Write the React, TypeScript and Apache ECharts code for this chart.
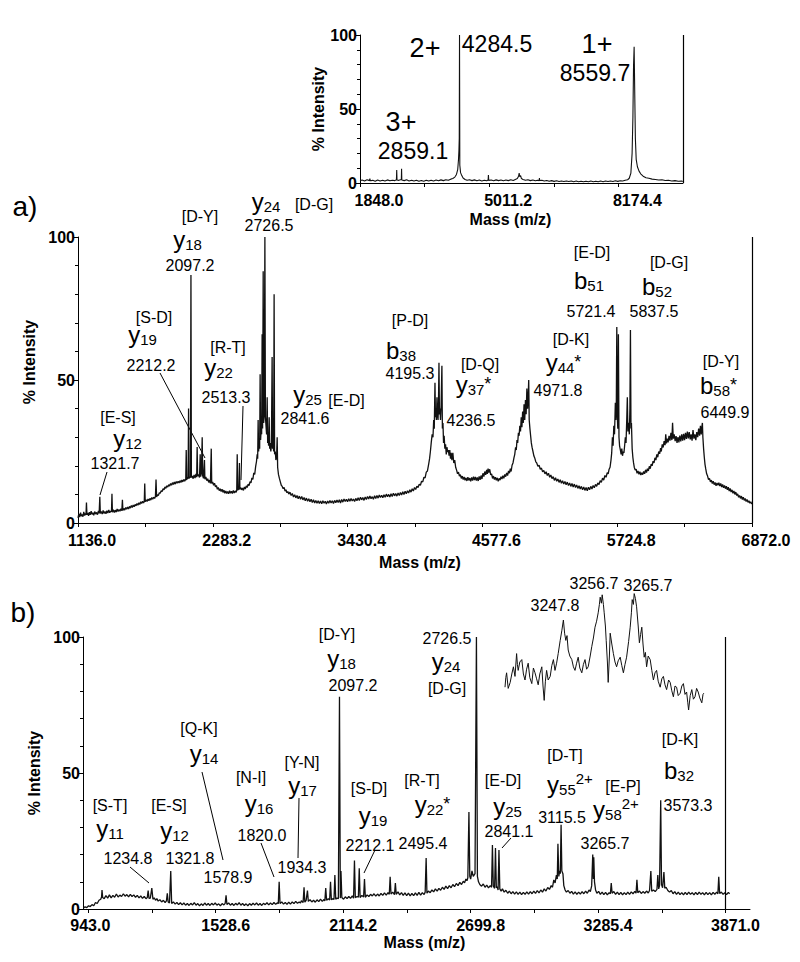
import React, { useEffect, useRef } from "react";
import * as echarts from "echarts";

// ---------- data ----------
const INSET_TICKS = [1848.0, 5011.2, 8174.4];
const A_TICKS = [1136.0, 2283.2, 3430.4, 4577.6, 5724.8, 6872.0];
const B_TICKS = [943.0, 1528.6, 2114.2, 2699.8, 3285.4, 3871.0];

const INSET_RANGE = [1848.0, 9756.0];
const A_RANGE = [1136.0, 6872.0];
const B_RANGE = [918.6, 3983.6];
const ZOOM_RANGE = [3233.3, 3283.3];

// top inset: full MS spectrum (m/z, % intensity)
const INSET_SPECTRUM = [
  [1848,1.5],[1900,2.0],[1960,1.4],[2020,2.2],[2080,1.6],[2090,3.0],[2100,1.5],[2160,1.8],[2220,1.2],[2280,2.0],
  [2340,1.4],[2400,1.9],[2460,1.3],[2520,2.1],[2580,1.5],[2640,1.9],[2700,1.6],[2740,2.2],[2747,8.8],[2754,2.0],
  [2800,1.8],[2860,2.4],[2866,9.6],[2872,2.0],[2930,1.6],[2990,2.2],[3050,1.4],[3110,1.9],[3170,1.3],[3230,1.8],
  [3290,1.2],[3350,1.7],[3410,1.2],[3470,1.8],[3530,1.3],[3590,1.9],[3650,1.4],[3710,2.0],[3770,1.5],[3830,2.1],
  [3890,1.6],[3950,2.2],[4010,1.8],[4070,2.6],[4120,3.0],[4170,4.0],[4210,5.8],[4240,9.0],[4260,16.0],[4270,22.0],
  [4278,30.0],[4284.5,100],[4292,12.0],[4310,7.0],[4340,5.0],[4372,3.4],[4420,2.4],[4470,1.8],[4530,2.2],[4590,1.6],
  [4650,2.1],[4710,1.5],[4770,2.0],[4830,1.4],[4890,1.9],[4950,1.5],[4985,2.0],[4992,5.4],[4999,1.8],[5060,2.0],
  [5120,1.5],[5180,2.1],[5240,1.6],[5300,2.0],[5360,1.5],[5420,2.0],[5480,1.6],[5540,2.2],[5600,1.7],[5650,2.4],
  [5700,3.0],[5730,4.5],[5745,6.7],[5760,4.2],[5780,5.0],[5800,3.0],[5840,2.4],[5900,1.8],[5960,2.2],[6020,1.6],
  [6080,2.0],[6140,1.5],[6200,1.9],[6235,1.6],[6241,3.4],[6247,1.7],[6300,1.9],[6360,1.3],[6420,1.7],[6480,1.2],
  [6540,1.6],[6600,1.1],[6660,1.5],[6720,1.0],[6780,1.4],[6840,1.0],[6900,1.4],[6960,1.0],[7020,1.3],[7080,0.9],
  [7140,1.3],[7200,0.9],[7260,1.2],[7320,0.8],[7380,1.2],[7440,0.9],[7500,1.3],[7560,0.9],[7620,1.2],[7680,0.8],
  [7740,1.3],[7800,0.9],[7860,1.3],[7920,1.0],[7980,1.4],[8040,1.0],[8100,1.5],[8160,1.1],[8220,1.5],[8280,1.3],
  [8340,1.8],[8400,2.2],[8440,3.2],[8480,6.7],[8510,20.0],[8530,45.0],[8545,79.0],[8559.7,92.0],[8575,60.0],[8590,30.0],
  [8610,16.0],[8640,11.0],[8680,8.0],[8720,6.2],[8780,4.6],[8850,3.6],[8920,3.2],[9000,2.6],[9080,2.4],[9160,2.0],
  [9240,2.2],[9320,1.7],[9400,1.9],[9480,1.4],[9560,1.6],[9640,1.2],[9720,1.4],[9750,1.0],
];

// panel a: MS/MS spectrum
const SPECTRUM_A = [
  [1136,1.8],[1143,3.2],[1150,2.1],[1158,3.6],[1164,2.4],[1171,3.0],[1178,2.2],[1185,3.9],[1192,2.6],[1199,3.3],
  [1204,2.8],[1208,7.2],[1212,2.9],[1219,3.5],[1226,2.5],[1233,3.8],[1240,2.9],[1248,4.1],[1255,3.0],[1262,3.6],
  [1270,2.7],[1278,4.0],[1286,3.1],[1294,3.7],[1302,2.9],[1310,4.2],[1316,3.4],[1321.7,9.2],[1326,3.3],[1334,4.0],
  [1342,3.1],[1350,4.4],[1358,3.3],[1366,4.0],[1374,3.2],[1382,4.3],[1390,3.5],[1398,4.6],[1406,3.6],[1414,4.2],
  [1421,3.9],[1425,10.2],[1429,3.8],[1437,4.6],[1445,3.7],[1453,4.5],[1461,3.8],[1469,4.9],[1477,4.0],[1485,4.7],
  [1493,4.1],[1501,5.0],[1509,4.3],[1514,8.1],[1518,4.4],[1526,5.1],[1534,4.5],[1542,5.4],[1550,4.8],[1558,5.6],
  [1566,4.9],[1574,5.8],[1582,5.2],[1590,6.1],[1598,5.4],[1606,6.3],[1614,5.7],[1622,6.5],[1630,6.0],[1638,6.8],
  [1646,6.2],[1654,7.1],[1662,6.5],[1670,7.4],[1678,6.8],[1686,7.6],[1694,7.0],[1700,7.5],[1704,13.8],[1708,7.4],
  [1716,8.1],[1724,7.5],[1732,8.4],[1740,7.8],[1748,8.6],[1756,8.0],[1764,8.9],[1772,8.3],[1780,9.0],[1788,8.6],
  [1795,9.3],[1800,15.2],[1805,9.1],[1812,9.9],[1820,9.6],[1828,10.6],[1836,10.4],[1844,11.3],[1852,11.0],[1860,12.0],
  [1868,11.6],[1876,12.6],[1884,12.1],[1892,13.0],[1900,12.6],[1908,13.4],[1916,12.9],[1924,13.8],[1932,13.2],[1940,14.1],
  [1948,13.5],[1956,14.3],[1964,13.6],[1972,14.5],[1980,13.9],[1988,14.6],[1996,14.0],
  [2004,14.8],[2012,14.2],[2020,15.0],[2028,14.4],[2036,15.2],[2044,14.6],[2050,15.3],[2053,14.9],[2057,25.5],[2061,15.1],
  [2068,16.0],[2073,15.5],[2077,40.0],[2081,15.6],[2088,16.2],[2093,15.8],[2097.2,86.7],[2101,15.9],[2108,16.4],[2116,15.5],
  [2124,16.8],[2132,15.7],[2140,17.2],[2146,16.0],[2150,26.6],[2154,16.4],[2162,17.0],[2170,15.9],[2176,24.0],[2180,16.2],
  [2186,17.3],[2193,30.0],[2197,16.5],[2204,15.6],[2212.2,22.0],[2216,15.3],[2224,16.1],[2232,14.8],[2240,15.5],[2248,14.2],
  [2256,15.0],[2263,13.9],[2270,26.0],[2274,13.8],[2282,14.4],[2290,13.2],[2298,13.9],[2306,12.6],[2314,13.1],[2322,11.8],
  [2330,12.4],[2338,11.3],[2346,12.0],[2354,11.0],[2362,11.8],[2370,10.7],[2378,11.5],[2386,10.4],[2394,11.2],[2402,10.3],
  [2410,11.0],[2418,10.2],[2426,11.3],[2434,10.4],[2442,11.1],[2450,10.3],[2458,11.4],[2466,10.5],[2474,11.2],[2482,10.7],
  [2487,11.5],[2491,24.0],[2495,11.4],[2500,12.0],[2505,11.6],[2510,21.0],[2514,11.8],[2520,12.4],[2528,11.6],[2536,12.2],
  [2544,11.4],[2552,12.6],[2560,11.9],[2568,13.0],[2576,12.4],[2584,13.6],[2592,13.1],[2600,14.5],[2608,14.0],[2616,15.8],
  [2624,15.2],[2632,17.5],[2640,17.0],[2648,19.8],[2655,21.5],[2661,24.0],[2665,22.5],[2669,36.0],[2673,25.0],[2678,28.0],
  [2682,26.0],[2686,52.0],[2690,29.0],[2695,33.0],[2699,31.0],[2703,66.0],[2707,33.0],[2712,88.0],[2716,35.0],[2721,38.0],
  [2726.5,100],[2731,37.0],[2736,34.0],[2741,31.0],[2746,44.0],[2750,28.0],[2755,30.0],[2758,27.0],[2763,37.0],[2767,26.0],
  [2772,28.0],[2777,25.0],[2782,27.0],[2788,58.0],[2792,26.0],[2797,28.0],[2801,25.0],[2805,80.0],[2809,24.0],[2815,25.0],
  [2820,22.0],[2826,23.0],[2831,30.0],[2835,19.5],[2842,17.0],
  [2850,15.6],[2858,14.4],[2866,13.2],[2874,12.8],[2882,12.0],[2890,12.4],[2898,11.2],[2906,11.6],[2914,10.6],[2922,11.0],
  [2930,10.1],[2940,10.8],[2950,9.6],[2960,10.3],[2970,9.1],[2980,9.9],[2990,8.8],[3000,9.6],[3010,8.5],[3020,9.4],
  [3030,8.3],[3040,9.3],[3050,8.1],[3060,8.9],[3070,7.8],[3080,8.7],[3090,7.6],[3100,8.5],[3110,7.4],[3120,8.3],
  [3130,7.2],[3140,8.1],[3150,7.0],[3160,7.9],[3170,6.9],[3180,7.8],[3190,6.8],[3200,7.7],[3210,6.7],[3220,7.8],
  [3230,6.9],[3240,7.6],[3250,6.6],[3260,7.7],[3270,6.9],[3280,7.9],[3290,7.0],[3300,7.8],[3310,6.8],[3320,7.9],
  [3330,7.1],[3340,8.0],[3350,7.2],[3360,8.1],[3370,7.0],[3380,8.2],[3390,7.3],[3400,8.4],[3410,7.5],[3420,8.3],
  [3430,7.4],[3440,8.5],[3450,7.6],[3460,8.6],[3470,7.7],[3480,8.4],[3490,7.5],[3500,8.6],[3510,7.8],[3520,8.8],
  [3530,7.9],[3540,9.0],[3550,8.1],[3560,8.9],[3570,7.9],[3580,9.1],[3590,8.2],[3600,9.3],[3610,8.4],[3620,9.4],
  [3630,8.5],[3640,9.2],[3650,8.3],[3660,9.5],[3670,8.6],[3680,9.6],[3690,8.7],[3700,9.8],[3710,8.9],[3720,9.7],
  [3730,8.8],[3740,9.9],[3750,9.0],[3760,10.1],[3770,9.2],[3780,10.0],[3790,9.1],[3800,10.2],[3810,9.3],[3820,10.4],
  [3830,9.5],[3840,10.3],[3850,9.4],[3860,10.5],[3870,9.6],[3880,10.7],[3890,9.8],[3900,10.9],[3910,10.0],[3920,11.1],
  [3930,10.2],[3940,11.3],[3950,10.5],[3960,11.6],[3970,10.8],[3980,12.0],[3990,11.2],[4000,12.4],[4010,11.7],[4020,12.9],
  [4030,12.4],[4040,13.6],[4050,13.2],[4060,14.6],[4070,14.4],[4080,16.0],[4090,15.8],[4100,17.8],[4110,18.2],[4120,20.5],
  [4128,22.5],[4135,25.0],[4142,28.0],[4150,31.0],
  [4157,30.0],[4163,36.0],[4168,33.0],[4174,49.0],[4178,37.0],[4182,40.0],[4186,36.0],[4191,44.0],[4195.3,38.0],[4200,36.0],
  [4204,42.0],[4208,56.0],[4212,38.0],[4217,40.0],[4221,36.0],[4226,41.0],[4233,55.0],[4237,33.0],[4242,35.0],[4247,28.0],
  [4252,30.5],[4258,26.0],[4264,27.5],[4270,24.0],[4276,26.5],[4282,24.8],[4288,25.5],[4294,23.5],[4300,25.5],[4306,22.5],
  [4312,24.5],[4318,22.0],[4326,24.5],[4334,21.0],[4342,22.0],[4350,19.5],
  [4358,18.5],[4366,17.2],[4374,17.8],[4382,16.4],[4390,16.9],[4398,15.6],[4406,16.4],[4414,15.2],[4422,16.1],[4430,14.9],
  [4438,15.8],[4446,14.7],[4454,16.0],[4462,14.9],[4470,15.7],[4478,14.6],[4486,15.9],[4494,14.8],[4502,16.2],[4510,15.0],
  [4518,16.1],[4526,14.8],[4534,15.9],[4542,14.7],[4550,16.3],[4558,15.1],[4566,16.6],[4574,15.4],[4582,17.4],[4590,16.2],
  [4598,18.0],[4606,16.8],[4614,18.6],[4620,17.2],[4626,19.0],[4632,17.6],[4640,18.8],[4648,16.8],[4656,17.2],[4664,15.6],
  [4672,16.4],[4680,15.2],[4688,16.0],[4696,14.9],[4704,15.8],[4712,14.6],[4720,15.6],[4728,15.0],[4736,16.2],[4744,15.4],
  [4752,16.5],[4760,15.6],[4768,17.0],[4776,16.2],[4784,17.5],[4792,16.6],[4800,18.2],[4808,17.4],[4815,19.0],[4822,18.0],
  [4830,20.2],[4838,21.0],[4846,22.8],[4853,24.0],[4860,26.5],[4866,25.5],[4872,29.0],[4878,28.0],[4884,31.5],[4890,30.5],
  [4896,34.0],[4902,32.0],[4908,37.0],[4914,33.5],[4920,39.0],[4926,35.0],[4932,41.5],[4938,36.0],[4944,43.0],[4950,38.0],
  [4956,47.0],[4962,40.0],[4967,44.0],[4971.8,50.0],[4976,36.0],[4982,33.0],[4988,30.5],[4994,28.0],[5000,26.5],[5008,25.0],
  [5016,23.4],[5024,22.6],[5032,21.4],[5040,21.0],[5050,19.8],[5060,20.2],[5070,18.8],[5080,19.2],[5090,17.9],[5100,18.4],
  [5110,17.2],[5120,17.9],[5130,16.6],[5140,17.4],[5150,16.0],[5160,16.8],[5170,15.5],[5180,16.2],[5190,14.9],[5200,15.8],
  [5210,14.6],[5220,15.4],[5230,14.2],[5240,15.1],[5250,13.9],[5260,14.8],[5270,13.6],[5280,14.5],[5290,13.4],[5300,14.3],
  [5310,13.1],[5320,14.0],[5330,12.8],[5340,13.8],[5350,12.6],[5360,13.6],[5370,12.4],[5380,13.3],[5390,12.1],[5400,13.0],
  [5410,11.9],[5420,12.8],[5430,11.6],[5440,12.6],[5450,11.4],[5460,12.4],[5470,11.3],[5480,12.5],[5490,11.6],[5500,12.8],
  [5510,11.9],[5520,13.1],[5530,12.3],[5540,13.5],[5550,12.8],[5560,14.0],[5570,13.4],[5580,14.8],[5590,14.2],[5600,15.7],
  [5610,15.0],[5620,16.6],[5630,16.0],[5640,17.6],[5648,17.2],[5656,18.8],[5664,19.5],[5672,22.0],[5678,24.5],[5684,30.0],
  [5690,27.0],[5696,34.0],[5702,31.0],[5709,42.0],[5714,36.0],[5717,40.0],[5721.4,68.5],[5725,38.0],[5730,33.0],[5735,66.0],
  [5740,30.0],[5745,27.0],[5752,25.5],[5758,24.0],[5764,26.0],[5770,23.5],[5776,25.0],[5782,24.5],[5788,27.0],[5794,30.0],
  [5800,28.0],[5806,36.0],[5811,44.0],[5816,32.0],[5822,35.0],[5828,31.0],[5833,40.0],[5837.5,67.5],[5842,33.0],[5846,35.0],
  [5852,26.0],[5858,23.0],[5864,21.0],[5870,19.5],[5878,18.5],[5886,18.8],[5894,17.4],[5902,18.2],[5910,17.0],[5918,17.9],
  [5926,16.8],[5934,17.6],[5942,16.9],[5950,18.0],[5958,17.2],[5966,18.6],[5974,17.6],[5982,19.0],[5990,18.2],[5998,19.8],
  [6006,19.0],[6014,20.6],[6022,20.0],[6030,21.6],[6038,21.0],[6046,22.8],[6054,22.0],[6062,24.0],[6070,23.0],[6078,25.0],
  [6086,24.2],[6094,26.2],[6100,25.0],[6108,27.5],[6116,26.4],[6124,28.6],[6132,27.2],[6138,31.0],[6144,27.8],[6150,29.5],
  [6158,28.2],[6166,30.5],[6174,28.8],[6182,31.5],[6190,29.0],[6196,35.0],[6202,29.5],[6210,31.0],[6218,28.6],[6226,30.4],
  [6234,28.0],[6242,30.0],[6250,28.2],[6258,30.6],[6266,28.5],[6274,31.0],[6282,28.8],[6290,31.2],[6298,29.0],[6306,31.5],
  [6314,29.4],[6322,32.0],[6330,29.6],[6338,31.8],[6346,29.2],[6354,31.0],[6362,28.8],[6370,32.5],[6378,29.5],[6386,31.0],
  [6394,29.0],[6402,31.8],[6410,30.0],[6418,33.0],[6426,30.5],[6433,34.0],[6440,31.0],[6445,33.5],[6449.9,35.0],[6454,30.0],
  [6460,26.0],[6466,23.0],[6472,20.5],[6478,19.0],[6486,17.2],[6494,16.4],[6502,15.2],[6510,15.6],[6518,14.4],[6526,15.0],
  [6534,13.8],[6542,14.6],[6550,13.4],[6558,14.2],[6566,13.0],[6574,14.0],[6582,13.2],[6590,14.1],[6598,12.9],[6606,13.8],
  [6614,12.6],[6622,13.5],[6630,12.3],[6638,13.1],[6646,12.0],[6654,12.9],[6662,11.6],[6670,12.5],[6678,11.2],[6686,12.1],
  [6694,10.8],[6702,11.6],[6710,10.4],[6718,11.2],[6726,10.0],[6734,10.8],[6742,9.6],[6750,10.2],[6758,9.0],[6766,9.6],
  [6774,8.6],[6782,9.4],[6790,8.2],[6798,9.0],[6806,7.9],[6814,8.6],[6822,7.5],[6830,8.2],[6838,7.2],[6846,7.8],
  [6854,6.9],[6862,7.4],[6870,6.6],
];

// panel b: MS/MS spectrum
const SPECTRUM_B = [
  [920,0.3],[928,0.8],[936,0.5],[944,1.2],[952,0.9],[960,1.6],[968,1.2],[976,2.4],[984,2.0],[992,3.2],
  [1000,3.6],[1004,4.4],[1006,7.0],[1009,4.2],[1016,3.8],[1024,4.9],[1032,4.0],[1040,5.2],[1048,4.1],[1056,5.0],
  [1064,4.3],[1072,5.5],[1080,4.4],[1088,5.1],[1096,4.6],[1104,5.6],[1112,4.7],[1120,5.3],[1128,4.5],[1136,5.4],
  [1144,4.6],[1152,5.2],[1160,4.3],[1168,5.0],[1176,4.1],[1184,4.8],[1192,3.9],[1200,4.6],[1208,3.8],[1214,4.2],
  [1218,6.8],[1222,3.9],[1228,4.0],[1234.8,7.7],[1240,3.6],[1246,4.1],[1252,3.2],[1258,3.8],[1264,2.9],[1272,3.4],
  [1280,2.6],[1288,3.2],[1296,2.4],[1302,3.0],[1306,5.8],[1310,2.6],[1316,2.2],[1321.8,14.0],[1326,2.0],[1334,2.6],
  [1342,1.8],[1350,2.4],[1358,1.6],[1366,2.3],[1374,1.5],[1382,2.2],[1390,1.4],[1398,2.0],[1406,1.3],[1414,2.1],
  [1422,1.5],[1430,2.3],[1438,1.4],[1446,2.0],[1454,1.2],[1462,1.9],[1470,1.3],[1478,2.2],[1486,1.4],[1494,2.0],
  [1502,1.3],[1510,2.1],[1518,1.5],[1526,2.2],[1534,1.4],[1542,1.9],[1550,1.2],[1558,2.0],[1566,1.5],[1572,2.1],
  [1576,5.0],[1580,1.7],[1588,2.2],[1596,1.4],[1604,2.0],[1612,1.3],[1620,2.1],[1628,1.5],[1636,2.3],[1644,1.4],
  [1652,2.0],[1660,1.3],[1668,1.9],[1676,1.2],[1684,2.0],[1692,1.4],[1700,2.1],[1708,1.5],[1716,2.2],[1724,1.4],
  [1732,2.0],[1740,1.3],[1748,2.1],[1756,1.6],[1764,2.3],[1772,1.5],[1780,2.2],[1788,1.6],[1796,2.4],[1804,1.7],
  [1812,2.3],[1816,1.9],[1820,10.0],[1824,2.0],[1832,2.6],[1840,1.8],[1848,2.4],[1856,1.7],[1864,2.5],[1872,1.8],
  [1880,2.6],[1888,2.0],[1896,2.8],[1904,2.1],[1912,2.6],[1918,2.2],[1922,3.0],[1930,2.4],[1934.3,8.0],[1938,2.5],
  [1944,3.2],[1950,6.8],[1954,2.8],[1962,3.4],[1970,2.6],[1978,3.2],[1986,2.5],[1994,3.4],[2002,2.7],[2010,3.6],
  [2018,2.8],[2026,3.5],[2030,3.0],[2034,7.7],[2038,3.2],[2046,3.8],[2052,3.3],[2056,10.0],[2060,3.4],[2066,3.8],
  [2072,3.5],[2076,12.5],[2080,3.6],[2086,4.0],[2092,3.8],[2097.2,78.0],[2101,4.0],[2104,14.0],[2108,4.2],[2116,3.6],
  [2124,4.5],[2132,3.8],[2140,4.6],[2148,3.9],[2156,4.8],[2162,4.0],[2166,17.8],[2170,4.2],[2178,4.6],[2184,4.3],
  [2188,15.0],[2192,4.2],[2200,5.0],[2208,4.4],[2212.1,11.0],[2216,4.3],[2224,5.2],[2232,4.6],[2240,5.4],[2248,4.8],
  [2256,5.6],[2264,4.7],[2272,5.5],[2280,4.8],[2288,5.7],[2296,5.0],[2304,5.9],[2312,5.1],[2320,6.0],[2326,5.4],
  [2330,11.8],[2334,5.5],[2342,6.2],[2350,5.3],[2354,9.5],[2358,5.4],[2366,6.3],[2374,5.2],[2382,6.0],[2390,5.0],
  [2398,5.9],[2406,4.9],[2414,5.8],[2422,4.8],[2430,5.7],[2438,4.9],[2446,5.9],[2454,5.0],[2462,6.1],[2470,5.1],
  [2478,6.0],[2486,5.3],[2491,6.2],[2495.4,18.7],[2499,5.8],[2506,6.6],[2514,6.0],[2522,7.0],[2530,6.3],[2538,7.4],
  [2546,6.6],[2554,7.6],[2562,6.9],[2570,8.0],[2578,7.2],[2586,8.4],[2594,7.5],[2602,8.6],[2610,7.8],[2618,9.0],
  [2626,8.2],[2634,9.4],[2642,8.6],[2650,9.8],[2658,9.0],[2666,10.2],[2672,9.6],[2678,11.0],[2683,10.4],[2687,11.5],
  [2692,35.7],[2696,12.0],[2700,11.0],[2706,14.0],[2712,12.0],[2720,13.0],[2726.5,100],[2731,12.0],[2736,10.0],[2742,9.0],
  [2750,8.4],[2758,9.2],[2766,8.0],[2774,8.8],[2782,7.8],[2790,8.6],[2796,8.0],[2800,23.5],[2804,8.5],[2810,7.6],
  [2814,22.4],[2818,7.8],[2822,8.2],[2826,7.0],[2830,21.7],[2834,7.4],[2840,6.6],[2846,7.4],[2854,6.2],[2862,6.9],
  [2870,5.8],[2878,6.6],[2886,5.6],[2894,6.4],[2902,5.5],[2910,6.3],[2918,5.4],[2926,6.2],[2934,5.3],[2942,6.1],
  [2950,5.4],[2958,6.3],[2966,5.5],[2974,6.4],[2982,5.6],[2990,6.6],[2998,5.7],[3006,6.8],[3014,5.9],[3022,7.0],
  [3030,6.2],[3038,7.4],[3046,6.6],[3054,7.9],[3062,7.2],[3070,8.6],[3076,8.0],[3082,10.7],[3088,9.6],[3094,12.5],
  [3098,11.0],[3101,24.0],[3105,12.0],[3109,14.0],[3112,13.0],[3115.5,31.0],[3119,14.0],[3124,13.0],[3128,8.6],[3134,7.0],
  [3140,6.2],[3148,6.8],[3156,5.8],[3164,6.5],[3172,5.5],[3180,6.3],[3188,5.4],[3196,6.2],[3204,5.5],[3212,6.4],
  [3220,5.6],[3228,6.6],[3236,5.8],[3244,7.0],[3250,6.4],[3256,8.5],[3261,20.0],[3264,11.0],[3265.7,19.0],[3269,10.0],
  [3274,7.0],[3280,5.8],[3288,6.5],[3296,5.4],[3304,6.2],[3312,5.3],[3320,6.1],[3328,5.2],[3336,6.0],[3342,5.6],
  [3346,9.5],[3350,5.8],[3358,6.4],[3366,5.4],[3374,6.2],[3382,5.3],[3390,6.1],[3398,5.2],[3406,6.0],[3414,5.3],
  [3422,6.2],[3430,5.4],[3438,6.3],[3446,5.6],[3454,6.5],[3460,5.8],[3464,10.7],[3468,6.0],[3476,6.6],[3484,5.7],
  [3492,6.4],[3500,5.8],[3508,6.6],[3516,5.9],[3522,6.8],[3528,14.0],[3532,6.5],[3540,7.0],[3548,6.4],[3556,7.2],
  [3560,12.5],[3564,7.4],[3568,8.6],[3573.3,40.0],[3577,9.0],[3582,7.8],[3588,13.6],[3592,7.6],[3598,8.0],[3606,6.8],
  [3614,6.2],[3622,6.8],[3630,5.6],[3638,6.4],[3646,5.4],[3654,6.2],[3662,5.3],[3670,6.0],[3678,5.2],[3686,6.1],
  [3694,5.3],[3702,6.2],[3710,5.4],[3718,6.0],[3726,5.2],[3734,6.1],[3742,5.3],[3750,6.2],[3758,5.4],[3766,6.0],
  [3774,5.2],[3782,6.1],[3790,5.3],[3798,6.0],[3806,5.2],[3814,6.1],[3822,5.4],[3830,6.2],[3836,5.6],[3840,11.8],
  [3844,5.7],[3852,6.2],[3860,5.4],[3868,6.0],[3876,5.3],[3884,6.1],[3890,5.6],
];

// panel b: expanded view of the 3247.8 / 3256.7 / 3265.7 region (relative intensity)
const ZOOM_B = [
  [3233.3,19],[3233.5,27],[3233.7,31],[3234.1,18],[3234.6,23],[3235.0,30],[3235.4,36],[3235.8,28],[3236.2,47],[3236.4,38],
  [3236.6,33],[3237.0,40],[3237.5,42],[3237.9,30],[3238.3,25],[3238.7,34],[3239.1,39],[3239.5,27],[3240.0,22],[3240.4,35],
  [3240.8,31],[3241.2,26],[3241.6,21],[3242.0,30],[3242.5,36],[3242.8,20],[3243.1,8],[3243.4,24],[3243.7,33],[3244.1,25],
  [3244.6,28],[3245.0,37],[3245.4,42],[3245.8,33],[3246.2,39],[3246.6,47],[3247.1,58],[3247.5,66],[3247.9,75],[3248.2,64],
  [3248.5,58],[3248.8,62],[3249.1,50],[3249.5,45],[3250.0,42],[3250.4,36],[3250.8,33],[3251.2,39],[3251.6,44],[3252.0,35],
  [3252.5,31],[3252.9,38],[3253.3,42],[3253.7,34],[3254.1,36],[3254.6,45],[3255.0,53],[3255.4,60],[3255.8,69],[3256.2,74],
  [3256.6,81],[3256.9,88],[3257.1,94],[3257.4,89],[3257.6,96],[3257.9,88],[3258.1,81],[3258.4,70],[3258.6,58],[3258.9,40],
  [3259.1,23],[3259.4,45],[3259.6,64],[3260.0,55],[3260.4,47],[3260.8,40],[3261.2,36],[3261.6,41],[3262.1,44],[3262.5,37],
  [3262.9,31],[3263.3,38],[3263.7,44],[3264.2,57],[3264.6,69],[3264.9,81],[3265.1,92],[3265.4,88],[3265.6,97],[3265.9,93],
  [3266.2,86],[3266.6,70],[3266.9,56],[3267.2,63],[3267.5,69],[3267.8,55],[3268.1,44],[3268.4,48],[3268.7,36],[3269.1,45],
  [3269.6,42],[3270.0,33],[3270.4,25],[3270.8,31],[3271.2,33],[3271.6,24],[3272.1,19],[3272.5,26],[3272.9,28],[3273.3,21],
  [3273.7,17],[3274.2,25],[3274.6,23],[3275.0,16],[3275.4,11],[3275.8,20],[3276.2,19],[3276.6,12],[3277.1,14],[3277.5,20],
  [3277.9,22],[3278.3,13],[3278.7,15],[3279.0,6],[3279.2,0],[3279.6,12],[3280.0,17],[3280.4,9],[3280.8,11],[3281.2,18],
  [3281.6,15],[3282.0,10],[3282.5,6],[3282.8,13],[3283.0,14],
];

// ---------- annotation layout (pixel positions) ----------
const FONT = '"Liberation Sans", Arial, Helvetica, sans-serif';

const BRACKETS: [string, number, number][] = [
  ["[D-Y]", 200, 216], ["[D-G]", 314, 204], ["[S-D]", 154, 317], ["[R-T]", 228, 347], ["[E-D]", 346.5, 400],
  ["[E-S]", 118, 417], ["[P-D]", 410, 320], ["[D-Q]", 480, 364], ["[D-K]", 571, 339], ["[E-D]", 592, 252],
  ["[D-G]", 669, 262], ["[D-Y]", 721, 361],
  ["[S-T]", 110, 805], ["[E-S]", 169, 805], ["[Q-K]", 199, 728], ["[N-I]", 251, 777], ["[Y-N]", 302, 762],
  ["[S-D]", 369, 788], ["[R-T]", 422, 780], ["[D-Y]", 337, 634], ["[D-G]", 447, 688], ["[E-D]", 503, 780],
  ["[D-T]", 565, 755], ["[E-P]", 623, 786], ["[D-K]", 680, 739],
];

const MASS_LABELS: [string, number, number][] = [
  ["2097.2", 190, 265], ["2726.5", 269, 225], ["2212.2", 151, 365], ["2513.3", 226, 397], ["2841.6", 305, 418],
  ["1321.7", 115, 463], ["4195.3", 410, 373], ["4236.5", 471, 420], ["4971.8", 558, 390], ["5721.4", 591, 311],
  ["5837.5", 654, 311], ["6449.9", 725, 412],
  ["1234.8", 128, 858], ["1321.8", 190, 858], ["1578.9", 228, 877], ["1820.0", 262, 835], ["1934.3", 302, 867],
  ["2097.2", 353, 685], ["2212.1", 370, 845], ["2495.4", 423, 843], ["2726.5", 447, 638], ["2841.1", 509, 831],
  ["3115.5", 562, 817], ["3265.7", 605, 843], ["3573.3", 688, 805],
  ["3247.8", 555, 605], ["3256.7", 594, 583], ["3265.7", 648, 585],
];

const IONS: [string, string, string, number, number][] = [
  ["y", "18", "", 187.5, 239], ["y", "24", "", 266, 201], ["y", "19", "", 142.5, 334], ["y", "22", "", 218.5, 367],
  ["y", "25", "", 307.5, 394], ["y", "12", "", 127.5, 438], ["b", "38", "", 401, 350], ["y", "37", "*", 473.5, 384],
  ["y", "44", "*", 563.5, 362], ["b", "51", "", 589, 280], ["b", "52", "", 657, 286], ["b", "58", "*", 718.5, 385],
  ["y", "11", "", 110, 828], ["y", "12", "", 174.5, 830], ["y", "14", "", 204, 753], ["y", "16", "", 259, 803],
  ["y", "17", "", 302.5, 785], ["y", "18", "", 341.5, 658], ["y", "19", "", 373, 815], ["y", "22", "*", 432.5, 804],
  ["y", "24", "", 446, 661], ["y", "25", "", 507.5, 806], ["y", "55", "2+", 570, 784], ["y", "58", "2+", 616, 809],
  ["b", "32", "", 679, 770],
];

const CHARGE_LABELS: [string, number, number][] = [["2+", 425, 48], ["1+", 597, 44], ["3+", 401, 122]];
const INSET_MASSES: [string, number, number][] = [["4284.5", 497, 44], ["8559.7", 595, 73], ["2859.1", 413, 151]];
const PANEL_TAGS: [string, number, number][] = [["a)", 25, 206], ["b)", 23, 612]];
const LEADERS: [number, number, number, number][] = [
  [160, 373, 205, 458], [243, 406, 241, 480], [107, 472, 100, 495], [130, 867, 149, 883], [202, 772, 223, 860],
  [261, 843, 274, 877], [299, 798, 298, 858], [375, 850, 364, 873], [502, 848, 511, 838],
];

// ---------- helpers ----------
const midpoints = (t: number[]) => {
  const out: number[] = [];
  for (let i = 0; i < t.length; i++) {
    out.push(t[i]);
    if (i < t.length - 1) out.push(+(((t[i] + t[i + 1]) / 2).toFixed(2)));
  }
  return out;
};

const boldText = { fontFamily: FONT, fontWeight: "bold", fontSize: 16, color: "#000" };

function xAxisCfg(gi: number, range: number[], ticks: number[], pad: number, firstPad: number,
                  margin: number, nameGap: number, namePad: number[]) {
  return {
    gridIndex: gi, type: "value", min: range[0], max: range[1],
    name: "Mass (m/z)", nameLocation: "middle", nameGap, nameMoveOverlap: false,
    nameTextStyle: { ...boldText, padding: namePad },
    axisLine: { show: true, onZero: false, lineStyle: { color: "#000", width: 1 } },
    axisTick: { show: true, customValues: midpoints(ticks), length: 4, lineStyle: { color: "#000" } },
    axisLabel: {
      customValues: ticks, margin, color: "#000",
      formatter: (v: number) => (Math.abs(v - ticks[0]) < 1e-6 ? `{f|${v.toFixed(1)}}` : `{t|${v.toFixed(1)}}`),
      rich: { t: { ...boldText, padding: [0, 0, 0, pad] }, f: { ...boldText, padding: [0, 0, 0, firstPad] } },
    },
    splitLine: { show: false },
  };
}

function yAxisCfg(gi: number, nameGap: number, namePad: number[]) {
  return {
    gridIndex: gi, type: "value", min: 0, max: 100, interval: 50,
    name: "% Intensity", nameLocation: "middle", nameGap, nameRotate: 90,
    nameTextStyle: { ...boldText, padding: namePad },
    axisLine: { show: true, onZero: false, lineStyle: { color: "#000", width: 1 } },
    axisTick: { show: true, length: 4, lineStyle: { color: "#000" } },
    minorTick: { show: true, splitNumber: 5, length: 3, lineStyle: { color: "#000" } },
    axisLabel: { ...boldText, margin: 3 },
    splitLine: { show: false },
  };
}

function spectrum(i: number, data: number[][], endLine: number | null, width: number) {
  return {
    type: "line", xAxisIndex: i, yAxisIndex: i, data, symbol: "none", showSymbol: false, silent: true,
    lineStyle: { color: "#111", width },
    markLine: endLine === null ? undefined : {
      silent: true, symbol: "none", label: { show: false },
      lineStyle: { color: "#000", width: 1.2, type: "solid" },
      data: [[{ coord: [endLine, 0] }, { coord: [endLine, 100] }]],
    },
  };
}

function buildGraphics() {
  const g: any[] = [];
  const txt = (text: string, x: number, y: number, fontSize: number) => ({
    type: "text", x, y, silent: true,
    style: { text, fontFamily: FONT, fontSize, fill: "#000", align: "center", verticalAlign: "middle" },
  });
  BRACKETS.forEach(([t, x, y]) => g.push(txt(t, x, y, 16)));
  MASS_LABELS.forEach(([t, x, y]) => g.push(txt(t, x, y, 16)));
  CHARGE_LABELS.forEach(([t, x, y]) => g.push(txt(t, x, y, 27)));
  INSET_MASSES.forEach(([t, x, y]) => g.push(txt(t, x, y, 23)));
  PANEL_TAGS.forEach(([t, x, y]) => g.push(txt(t, x, y, 28)));
  const rich = {
    i: { fontFamily: FONT, fontSize: 24, lineHeight: 26, fill: "#000", verticalAlign: "middle" },
    s: { fontFamily: FONT, fontSize: 15, lineHeight: 8, fill: "#000", verticalAlign: "bottom" },
    p: { fontFamily: FONT, fontSize: 15, lineHeight: 22, fill: "#000", verticalAlign: "top" },
    a: { fontFamily: FONT, fontSize: 18, lineHeight: 26, fill: "#000", verticalAlign: "middle" },
  };
  IONS.forEach(([l, sub, sup, x, y]) => {
    const supTok = sup === "" ? "" : sup === "*" ? `{a|*}` : `{p|${sup}}`;
    g.push({
      type: "text", x, y, silent: true,
      style: { text: `{i|${l}}{s|${sub}}${supTok}`, rich, fontFamily: FONT, fontSize: 24, fill: "#000",
               align: "center", verticalAlign: "middle" },
    });
  });
  LEADERS.forEach(([x1, y1, x2, y2]) => g.push({
    type: "line", silent: true, shape: { x1, y1, x2, y2 }, style: { stroke: "#000", lineWidth: 1 },
  }));
  return g;
}

export default function App() {
  const ref = useRef<HTMLDivElement>(null);
  useEffect(() => {
    if (!ref.current) return;
    const chart = echarts.init(ref.current, null, { renderer: "svg" });
    chart.setOption({
      animation: false,
      backgroundColor: "#fff",
      grid: [
        { left: 360, top: 35, width: 323, height: 148, outerBoundsMode: "none" },
        { left: 78, top: 237, width: 674, height: 286, outerBoundsMode: "none" },
        { left: 83, top: 637, width: 667, height: 272, outerBoundsMode: "none" },
        { left: 505, top: 590, width: 200, height: 120, outerBoundsMode: "none" },
      ],
      xAxis: [
        xAxisCfg(0, INSET_RANGE, INSET_TICKS, 38, 38, 9, 28, [0, 22, 0, 0]),
        xAxisCfg(1, A_RANGE, A_TICKS, 28, 28, 9, 31, [0, 0, 0, 10]),
        xAxisCfg(2, B_RANGE, B_TICKS, 20, 4, 8, 25, [0, 0, 0, 16]),
        { gridIndex: 3, type: "value", min: ZOOM_RANGE[0], max: ZOOM_RANGE[1], show: false },
      ],
      yAxis: [
        yAxisCfg(0, 32, [0, 0, 0, 0]),
        yAxisCfg(1, 27, [0, 0, 0, 36]),
        yAxisCfg(2, 30, [0, 0, 0, 0]),
        { gridIndex: 3, type: "value", min: 0, max: 100, show: false },
      ],
      series: [
        spectrum(0, INSET_SPECTRUM, INSET_RANGE[1], 1.1),
        spectrum(1, SPECTRUM_A, A_RANGE[1], 1.3),
        spectrum(2, SPECTRUM_B, B_TICKS[B_TICKS.length - 1], 1.3),
        spectrum(3, ZOOM_B, null, 1),
      ],
      graphic: buildGraphics(),
    });
    return () => chart.dispose();
  }, []);
  return <div ref={ref} style={{ position: "absolute", left: 0, top: 0, width: 800, height: 962 }} />;
}
